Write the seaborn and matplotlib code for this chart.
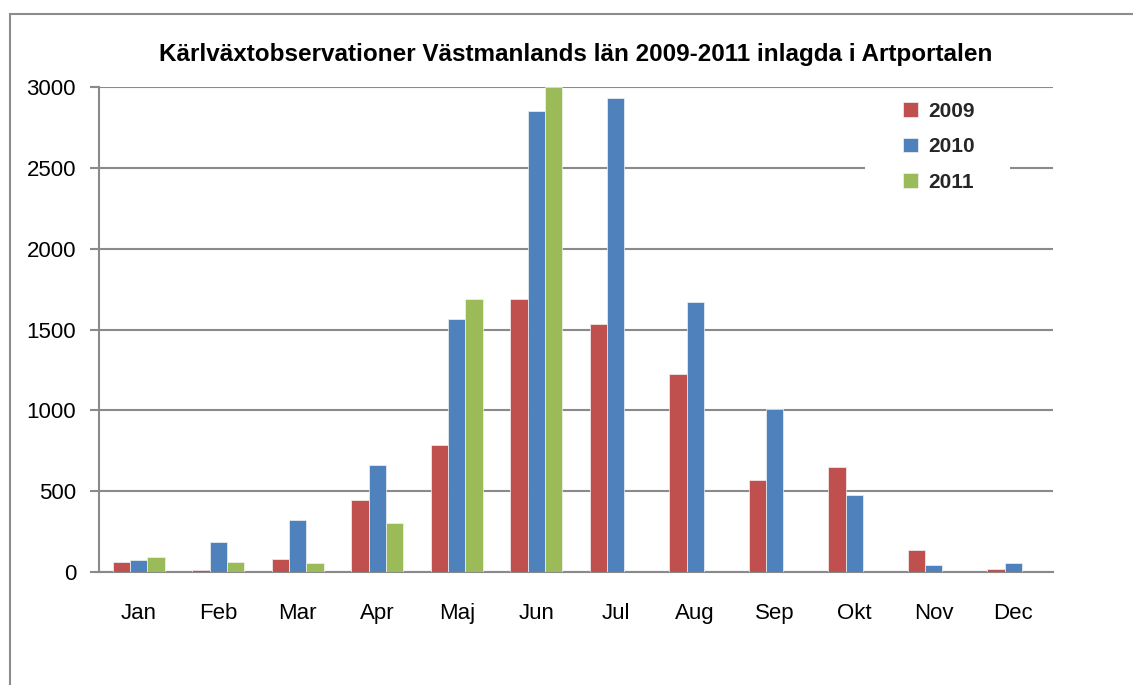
import matplotlib
matplotlib.use("Agg")
import matplotlib.pyplot as plt
import matplotlib.patches as mpatches
import numpy as np
import pandas as pd
import seaborn as sns

months = ['Jan', 'Feb', 'Mar', 'Apr', 'Maj', 'Jun', 'Jul', 'Aug', 'Sep', 'Okt', 'Nov', 'Dec']
years = ['2009', '2010', '2011']
obs_2009 = [60, 12, 79, 444, 786, 1686, 1533, 1227, 569, 648, 134, 17]
obs_2010 = [72, 186, 324, 662, 1568, 2854, 2933, 1671, 1009, 475, 43, 56]
obs_2011 = [91, 60, 56, 301, 1686, 3000, None, None, None, None, None, None]
colors = ['#C0504D', '#4F81BD', '#9BBB59']
y_ticks = [0, 500, 1000, 1500, 2000, 2500, 3000]

rows = []
for year, values in zip(years, [obs_2009, obs_2010, obs_2011]):
    for month, v in zip(months, values):
        if v is not None:
            rows.append({'month': month, 'year': year, 'count': v})
df = pd.DataFrame(rows)

sns.set_theme(style='white')
plt.rcParams['font.family'] = ['Liberation Sans', 'DejaVu Sans']

fig = plt.figure(figsize=(11.33, 6.85), dpi=100)
ax = fig.add_axes([99 / 1133, 1 - 572 / 685, (1053 - 99) / 1133, (572 - 87) / 685])

# Outer chart border (cut off at right and bottom as in the original)
fig.patches.append(mpatches.Rectangle((10 / 1133, -0.1), 1.2, (685 - 14) / 685 + 0.1,
                                      transform=fig.transFigure, fill=False,
                                      edgecolor='#8c8c8c', linewidth=1.5, zorder=0))

sns.barplot(data=df, x='month', y='count', hue='year', order=months, hue_order=years,
            palette=colors, width=0.66, gap=0, ax=ax, edgecolor='#f2f2f2', linewidth=0.5,
            saturation=1, err_kws={'linewidth': 0}, zorder=3)

ax.set_ylim(0, 3000)
ax.set_xlim(-0.5, 11.5)
ax.set_yticks(y_ticks)
ax.yaxis.grid(True, color='#8a8a8a', linewidth=1.5, zorder=0)
ax.set_axisbelow(True)
ax.set_xlabel('')
ax.set_ylabel('')

for side in ['top', 'right']:
    ax.spines[side].set_visible(False)
for side in ['left', 'bottom']:
    ax.spines[side].set_color('#8a8a8a')
    ax.spines[side].set_linewidth(1.5)

ax.set_xticks(np.arange(12))
ax.set_xticklabels(months)
ax.set_xticks(np.arange(-0.5, 12, 1), minor=True)
ax.tick_params(axis='x', which='major', length=0, pad=22, labelsize=16, labelcolor='black')
ax.tick_params(axis='x', which='minor', length=6, width=1.5, color='#8a8a8a', direction='out')
ax.tick_params(axis='y', length=6.5, width=1.5, color='#8a8a8a', direction='out', pad=10,
               labelsize=16, labelcolor='black', left=True)

ax.set_title('Kärlväxtobservationer Västmanlands län 2009-2011 inlagda i Artportalen',
             fontsize=17.5, fontweight='bold', pad=19, color='black')

# White legend area that hides the gridlines behind it
ax.add_patch(mpatches.Rectangle((0.803, 0.767), 0.152, 0.227, transform=ax.transAxes,
                                facecolor='white', edgecolor='none', zorder=4))

handles, labels = ax.get_legend_handles_labels()
leg = ax.legend(handles, labels, loc='upper left', bbox_to_anchor=(0.843, 0.969),
                frameon=False, prop={'weight': 'bold', 'size': 15},
                handlelength=0.7, handleheight=0.7, handletextpad=0.5,
                labelspacing=0.78, borderpad=0, borderaxespad=0)
leg.set_zorder(5)

fig.savefig('out.png', dpi=100)
